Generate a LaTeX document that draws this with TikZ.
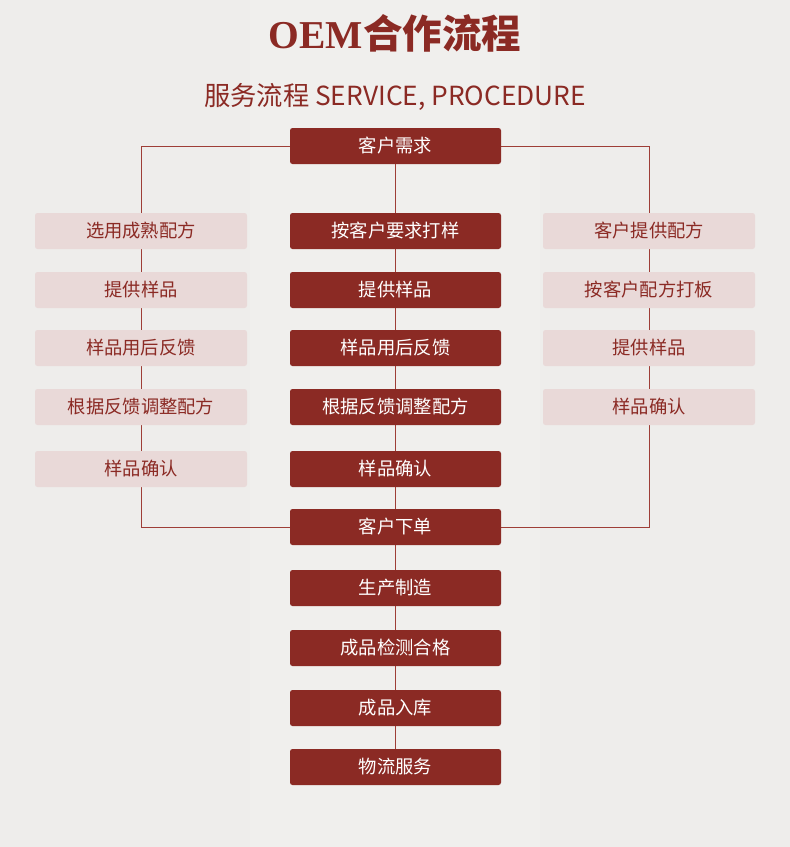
\documentclass[tikz,border=0pt]{standalone}
\usepackage{fontspec}
\setmainfont{Liberation Serif}
\newfontfamily\cjk{Noto Sans CJK SC}
\newfontfamily\cjkb{Noto Sans CJK SC Bold}
\definecolor{brick}{HTML}{8B2A24}
\definecolor{pinkbox}{HTML}{E9D9D8}
\definecolor{bg}{HTML}{EEEDEB}
\definecolor{linec}{HTML}{9E3E37}
\begin{document}
\begin{tikzpicture}[x=1pt,y=-1pt,
  mainbox/.style={fill=brick,rounded corners=2.5pt,minimum width=211pt,minimum height=36pt,inner sep=0pt,text=white,font=\cjk\fontsize{18.3}{18}\selectfont},
  sidebox/.style={fill=pinkbox,rounded corners=2.5pt,minimum width=212pt,minimum height=36pt,inner sep=0pt,text=brick,font=\cjk\fontsize{18.3}{18}\selectfont},
  conn/.style={draw=linec,line width=1pt}]
\fill[bg] (0,0) rectangle (790,847);
\fill[white,opacity=0.12] (250,0) rectangle (540,847);
\useasboundingbox (0,0) rectangle (790,847);
\node[text=brick,anchor=center] (title) at (395,33) {\fontsize{39.5}{40}\selectfont\bfseries OEM{\cjkb 合作流程}};
\node[text=brick,anchor=center] (sub) at (395,97) {\cjk\fontsize{26.3}{27}\selectfont 服务流程 SERVICE, PROCEDURE};
% coordinates
\coordinate (lt) at (141,146);
\coordinate (lb) at (141,527);
\coordinate (rt) at (649,146);
\coordinate (rb) at (649,527);
% lines behind
\draw[conn] (395.5,146) -- (395.5,767);
\draw[conn] (395.5,146) -- (lt) -- (lb) -- (395.5,527);
\draw[conn] (395.5,146) -- (rt) -- (rb) -- (395.5,527);
% center
\node[mainbox] (c1) at (395.5,146) {客户需求};
\node[mainbox] (c2) at (395.5,231) {按客户要求打样};
\node[mainbox] (c3) at (395.5,290) {提供样品};
\node[mainbox] (c4) at (395.5,348) {样品用后反馈};
\node[mainbox] (c5) at (395.5,407) {根据反馈调整配方};
\node[mainbox] (c6) at (395.5,469) {样品确认};
\node[mainbox] (c7) at (395.5,527) {客户下单};
\node[mainbox] (c8) at (395.5,588) {生产制造};
\node[mainbox] (c9) at (395.5,648) {成品检测合格};
\node[mainbox] (c10) at (395.5,708) {成品入库};
\node[mainbox] (c11) at (395.5,767) {物流服务};
% left
\node[sidebox] (l1) at (141,231) {选用成熟配方};
\node[sidebox] (l2) at (141,290) {提供样品};
\node[sidebox] (l3) at (141,348) {样品用后反馈};
\node[sidebox] (l4) at (141,407) {根据反馈调整配方};
\node[sidebox] (l5) at (141,469) {样品确认};
% right
\node[sidebox] (r1) at (649,231) {客户提供配方};
\node[sidebox] (r2) at (649,290) {按客户配方打板};
\node[sidebox] (r3) at (649,348) {提供样品};
\node[sidebox] (r4) at (649,407) {样品确认};
\end{tikzpicture}
\end{document}
